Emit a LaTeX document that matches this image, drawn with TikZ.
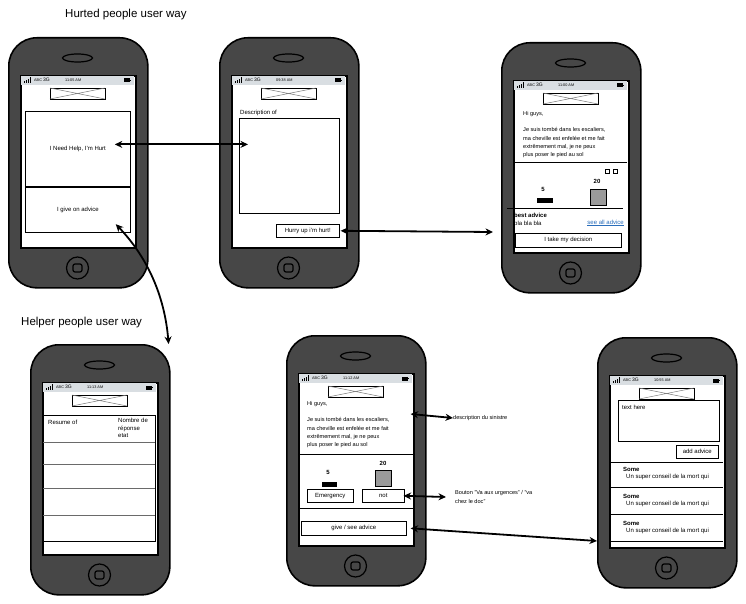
\documentclass[tikz,border=0pt]{standalone}
\usepackage{fontspec}
\setmainfont{Liberation Sans}
\usetikzlibrary{arrows.meta, shadows, calc, positioning}

\definecolor{bodyGrey}{HTML}{474747}
\definecolor{barGrey}{HTML}{D9DEE2}
\definecolor{boxGrey}{HTML}{9A9A9A}
\definecolor{linkBlue}{HTML}{2A6EBB}
\definecolor{rowGrey}{HTML}{6A6A6A}

\newcommand{\uitext}{\fontsize{6}{7.5}\selectfont}
\newcommand{\paratext}{\fontsize{5.6}{8.3}\selectfont}
\newcommand{\bartext}{\fontsize{3.8}{4}\selectfont}

\tikzset{
  phonebody/.style={draw=black, line width=1.6pt, fill=bodyGrey, rounded corners=28pt, inner sep=0},
  screen/.style={draw=black, line width=1.6pt, fill=white, inner sep=0},
  speaker/.style={draw=black, line width=1.2pt, fill=bodyGrey},
  imgph/.style={draw=black, line width=0.7pt, fill=white},
  panel/.style={draw=black, line width=0.8pt, fill=white, inner sep=0, font=\uitext},
  btn/.style={draw=black, line width=0.6pt, fill=white, inner sep=0, font=\uitext,
    drop shadow={shadow xshift=1.1pt, shadow yshift=-1.1pt, fill=black, opacity=1}},
  txt/.style={inner sep=0, font=\uitext},
  para/.style={inner sep=0, font=\paratext, align=left},
  note/.style={inner sep=0, font=\paratext, align=left},
  title/.style={inner sep=0, font=\fontsize{11.5}{13}\selectfont},
  rule/.style={draw=black, line width=0.8pt},
  link/.style={line width=1.8pt, <->, >={Stealth[length=7.5pt,width=7pt]}}
}

% phone frame: name, screen top left x, y, clock
\newcommand{\mockphone}[4]{%
  \begin{scope}[shift={(#2,#3)}]
    \node[phonebody, minimum width=139, minimum height=250, anchor=north west] (#1body) at (-12,-38) {};
    \draw[speaker] (57.5,-17) ellipse [x radius=15, y radius=4];
    \draw[speaker] (57.5,193) circle [radius=11];
    \draw[speaker, rounded corners=2pt] (53,189) rectangle (62,197);
    \node[screen, minimum width=115, minimum height=172, anchor=north west] (#1) at (0,0) {};
    \fill[barGrey] (0.8,0.8) rectangle (114.2,10);
    \foreach \i in {0,...,3}
      \fill (4+\i*2,8) rectangle ++(1.3,-2-\i*1.2);
    \node[inner sep=0, font=\bartext, anchor=west] (#1abc) at (14,5.5) {ABC};
    \node[inner sep=0, font=\fontsize{5}{5}\selectfont, anchor=west] (#1net) at (23,5) {3G};
    \node[inner sep=0, font=\bartext, anchor=west] (#1clock) at (45,5.5) {#4};
    \fill (104,3.5) rectangle (110,7.5);
    \fill (110,4.6) rectangle (111,6.4);
    \draw[imgph] (30,13) rectangle (85,24);
    \draw[gray, line width=0.5pt] (30,13) -- (85,24) (30,24) -- (85,13);
  \end{scope}}

\begin{document}
\begin{tikzpicture}[x=1pt, y=-1pt]
  \useasboundingbox (0,0) rectangle (746,604);

  % Titles
  \node[title, anchor=west] (hurtTitle) at (65,15) {Hurted people user way};
  \node[title, anchor=west] (helperTitle) at (21,323) {Helper people user way};

  % Phones
  \mockphone{home}{20}{75}{11:05 AM}
  \mockphone{describe}{231}{75}{09:38 AM}
  \mockphone{decide}{513}{80}{11:00 AM}
  \mockphone{list}{42}{382}{11:13 AM}
  \mockphone{post}{298}{373}{11:12 AM}
  \mockphone{advise}{609}{375}{10:55 AM}

  % Home screen
  \node[panel, minimum width=105, minimum height=75, anchor=north west] (hurt) at (25,111) {I Need Help, I'm Hurt};
  \node[panel, minimum width=105, minimum height=45, anchor=north] (advice) at (hurt.south) {I give on advice};

  % Description screen
  \node[txt, anchor=west] (descLabel) at (240,113) {Description of};
  \node[panel, minimum width=100, minimum height=95, anchor=north west] (desc) at (239,118) {};
  \node[btn, minimum width=63, minimum height=13, anchor=north west] (hurry) at (276,224) {Hurry up i'm hurt!};

  % Decision screen
  \node[para, anchor=north west] (story) at (523,111) {Hi guys,\\[8.3pt]Je suis tombé dans les escaliers,\\ma cheville est enfelée et me fait\\extrêmement mal, je ne peux\\plus poser le pied au sol};
  \draw[rule] (513,162) -- (627,162);
  \draw[line width=0.6pt] (605,169) rectangle ++(4.5,4.5);
  \draw[line width=0.6pt] (613,169) rectangle ++(4.5,4.5);
  \node[txt, font=\uitext\bfseries] (countHigh) at (597,181) {20};
  \node[txt, font=\uitext\bfseries] (countLow) at (543,189) {5};
  \fill (537,198) rectangle (553,203);
  \draw[fill=boxGrey, line width=0.6pt] (590,189) rectangle (606,205);
  \draw[rule] (507,208) -- (623,208);
  \node[txt, font=\uitext\bfseries, anchor=west] (bestAdvice) at (514,215) {best advice};
  \node[txt, anchor=west] (blaBla) at (514,223) {bla bla bla};
  \node[txt, anchor=east, text=linkBlue] (seeAll) at (624,223) {\underline{see all advice}};
  \node[btn, minimum width=106, minimum height=14, anchor=north west] (takeDecision) at (515,233) {I take my decision};

  % Helper list screen
  \node[panel, minimum width=112, minimum height=126, anchor=north west] (table) at (43,415) {};
  \foreach \y in {442,464,488,515}
    \draw[rowGrey, line width=1pt] (43,\y) -- (155,\y);
  \node[txt, anchor=west] (resume) at (48,422) {Resume of};
  \node[txt, anchor=north west, align=left, font=\fontsize{6}{7.5}\selectfont] (answers) at (118,418) {Nombre de\\réponse\\etat};

  % Helper post screen
  \node[para, anchor=north west] (story5) at (307,401) {Hi guys,\\[8.3pt]Je suis tombé dans les escaliers,\\ma cheville est enfelée et me fait\\extrêmement mal, je ne peux\\plus poser le pied au sol};
  \draw[rule] (298,454) -- (415,454);
  \node[txt, font=\uitext\bfseries] (countHigh5) at (383,463) {20};
  \node[txt, font=\uitext\bfseries] (countLow5) at (328,472) {5};
  \fill (322,482) rectangle (337,487);
  \draw[fill=boxGrey, line width=0.6pt] (375,470) rectangle (391,486);
  \node[btn, minimum width=46, minimum height=13, anchor=north west] (emergency) at (307,489) {Emergency};
  \node[btn, minimum width=42, minimum height=13, anchor=north west] (notBtn) at (362,489) {not};
  \draw[rule] (298,508) -- (415,508);
  \node[btn, minimum width=105, minimum height=14, anchor=north west] (give) at (301,521) {give / see advice};

  % Notes
  \node[note, anchor=west] (sinistre) at (453,418) {description du sinistre};
  \node[note, anchor=west] (urgences) at (455,497) {Bouton "Va aux urgences" / "va\\chez le doc"};

  % Advice screen
  \node[panel, minimum width=101, minimum height=41, anchor=north west] (textArea) at (618,400) {};
  \node[txt, anchor=west] (textHint) at ($(textArea.north west)+(4,7)$) {text here};
  \node[btn, minimum width=42, minimum height=13, anchor=north west] (addAdvice) at (676,445) {add advice};
  \draw[rule] (610,462) -- (723,462);
  \foreach \i in {0,1,2} {
    \node[txt, font=\uitext\bfseries, anchor=west] (some\i) at (623,469+27*\i) {Some};
    \node[txt, anchor=west] (tip\i) at (626,477+27*\i) {Un super conseil de la mort qui};
    \draw[rule] (610,487+27*\i) -- (723,487+27*\i);
  }

  % Connectors
  \coordinate (decisionIn) at (493,232);
  \coordinate (adviceIn) at (597,541);
  \draw[link] ([shift={(-16,-4.5)}]hurt.east) -- ([shift={(9,-21.5)}]desc.west);
  \draw[link] ([xshift=1pt]hurry.east) -- (decisionIn);
  \draw[link] ([shift={(-15,14.5)}]advice.east) .. controls (150,260) and (165,300) .. ([xshift=-2pt]listbody.north east);
  \draw[link] ($(post.east |- sinistre.west)+(-4,-4)$) -- (sinistre.west);
  \draw[link] ([xshift=-1pt]notBtn.east) -- ([xshift=-9pt]urgences.west);
  \draw[link] ([xshift=4pt]give.east) -- (adviceIn);
\end{tikzpicture}
\end{document}
